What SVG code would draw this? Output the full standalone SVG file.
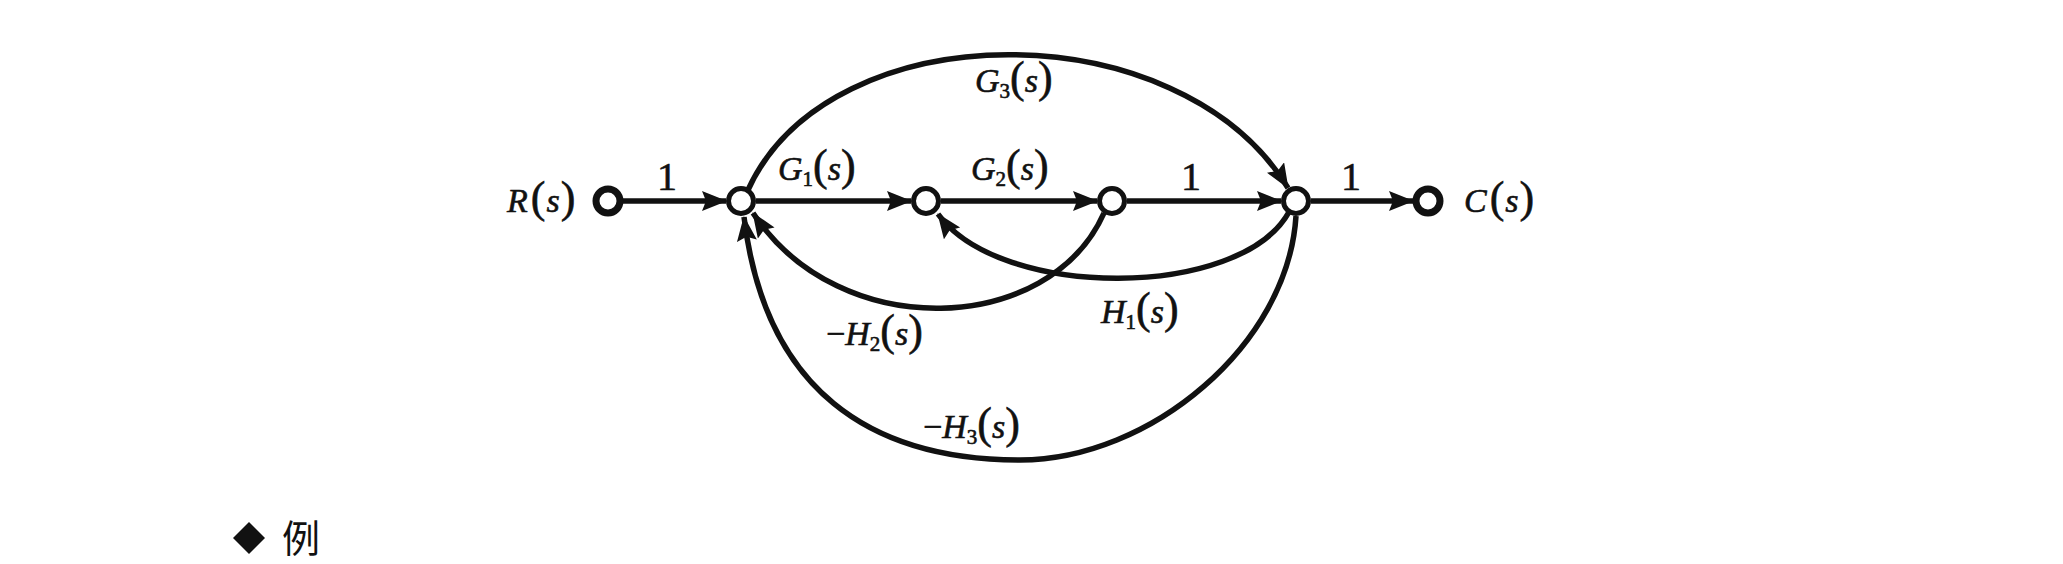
<svg xmlns="http://www.w3.org/2000/svg" width="2063" height="564" viewBox="0 0 2063 564">
<style>
.e{fill:none;stroke:#111;stroke-width:5.5}
.n{fill:#fff;stroke:#111;stroke-width:5}
.io{fill:#fff;stroke:#111;stroke-width:7}
text{font-family:"Liberation Serif","Times New Roman",serif;fill:#111;stroke:#111;stroke-width:0.6}
.t{font-size:34px;font-style:italic}
.p{font-style:normal;font-size:44px}
.sb{font-style:normal;font-size:21px}
.one{font-size:40px}
</style>
<defs>
<marker id="ah" markerUnits="userSpaceOnUse" markerWidth="28" markerHeight="22" refX="24" refY="10" orient="auto">
<path d="M0,0 L25,10 L0,20 L4,10 z" fill="#111"/>
</marker>
</defs>
<g id="connectors">
<path class="e" d="M621,201 L726,201" marker-end="url(#ah)"/>
<path class="e" d="M756,201 L911,201" marker-end="url(#ah)"/>
<path class="e" d="M941,201 L1097,201" marker-end="url(#ah)"/>
<path class="e" d="M1127,201 L1281,201" marker-end="url(#ah)"/>
<path class="e" d="M1311,201 L1413,201" marker-end="url(#ah)"/>
<path class="e" d="M748,190 C830,10 1180,10 1288,188" marker-end="url(#ah)"/>
<path class="e" d="M1104,213 C1050,335 840,345 753,213" marker-end="url(#ah)"/>
<path class="e" d="M1289,212 C1240,300 1000,300 938,214" marker-end="url(#ah)"/>
<path class="e" d="M1296,216 C1288,345 1150,460 1020,460 C870,460 765,390 744,217" marker-end="url(#ah)"/>
</g>
<g id="node-R"><circle class="io" cx="608" cy="201" r="12"/></g>
<g id="node-1"><circle class="n" cx="741" cy="201" r="12.5"/></g>
<g id="node-2"><circle class="n" cx="926" cy="201" r="12.5"/></g>
<g id="node-3"><circle class="n" cx="1112" cy="201" r="12.5"/></g>
<g id="node-4"><circle class="n" cx="1296" cy="201" r="12.5"/></g>
<g id="node-C"><circle class="io" cx="1428" cy="201" r="12"/></g>
<g id="labels">
<text class="t" x="507" y="212">R<tspan class="p" dx="3">(</tspan><tspan dx="1">s</tspan><tspan class="p" dx="1">)</tspan></text>
<text class="t" x="1464" y="212">C<tspan class="p" dx="3">(</tspan><tspan dx="1">s</tspan><tspan class="p" dx="1">)</tspan></text>
<text class="one" x="667" y="190" text-anchor="middle">1</text>
<text class="one" x="1191" y="190" text-anchor="middle">1</text>
<text class="one" x="1351" y="190" text-anchor="middle">1</text>
<text class="t" x="778" y="180">G<tspan class="sb" dy="6">1</tspan><tspan class="p" dy="-6">(</tspan>s<tspan class="p">)</tspan></text>
<text class="t" x="971" y="180">G<tspan class="sb" dy="6">2</tspan><tspan class="p" dy="-6">(</tspan>s<tspan class="p">)</tspan></text>
<text class="t" x="975" y="92">G<tspan class="sb" dy="6">3</tspan><tspan class="p" dy="-6">(</tspan>s<tspan class="p">)</tspan></text>
<text class="t" x="826" y="345"><tspan font-style="normal">−</tspan>H<tspan class="sb" dy="6">2</tspan><tspan class="p" dy="-6">(</tspan>s<tspan class="p">)</tspan></text>
<text class="t" x="1101" y="323">H<tspan class="sb" dy="6">1</tspan><tspan class="p" dy="-6">(</tspan>s<tspan class="p">)</tspan></text>
<text class="t" x="923" y="438"><tspan font-style="normal">−</tspan>H<tspan class="sb" dy="6">3</tspan><tspan class="p" dy="-6">(</tspan>s<tspan class="p">)</tspan></text>
</g>
<g id="example">
<path d="M249,522 L265,538 L249,554 L233,538 z" fill="#111"/>
<text x="282" y="552" style="font-family:'Noto Sans CJK SC',sans-serif;font-size:38px;stroke-width:0">例</text>
</g>
</svg>
